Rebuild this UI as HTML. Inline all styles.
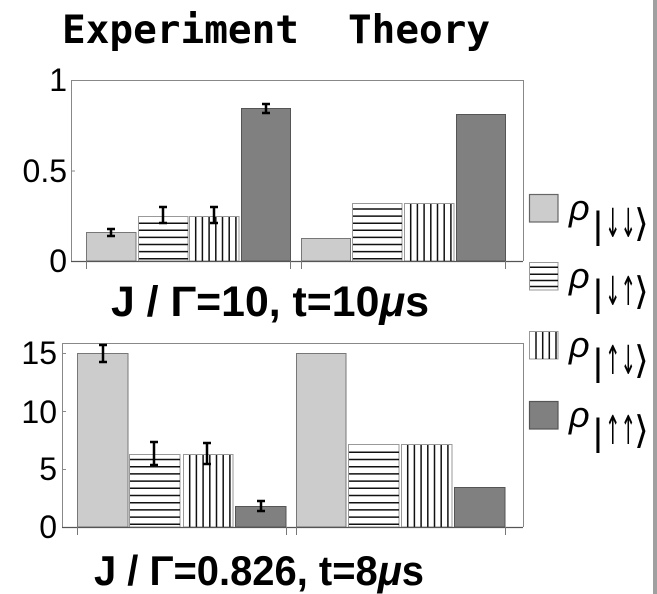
<!DOCTYPE html>
<html>
<head>
<meta charset="utf-8">
<style>
  html,body{margin:0;padding:0;background:#fff;}
  svg{display:block;}
</style>
</head>
<body>
<svg width="657" height="594" viewBox="0 0 657 594" xmlns="http://www.w3.org/2000/svg">
  <rect x="0" y="0" width="657" height="594" fill="#fff"/>
  <rect x="653" y="0" width="4" height="594" fill="#a0a0a0"/>

  <text x="62" y="43" font-family="'DejaVu Sans Mono','Liberation Mono',monospace" font-weight="bold" font-size="39" textLength="237" lengthAdjust="spacingAndGlyphs" fill="#000">Experiment</text>
  <text x="348" y="43" font-family="'DejaVu Sans Mono','Liberation Mono',monospace" font-weight="bold" font-size="39" textLength="142" lengthAdjust="spacingAndGlyphs" fill="#000">Theory</text>

  <!-- ================= TOP CHART ================= -->
  <g font-family="'Liberation Sans',Arial,sans-serif" font-size="32" fill="#000" text-anchor="end">
    <text x="67" y="91">1</text>
    <text x="67" y="182">0.5</text>
    <text x="67" y="272">0</text>
  </g>
  <path d="M71.5 261V80.5H523.5V261" fill="none" stroke="#888" stroke-width="1"/>
  <path d="M71.5 171H75" stroke="#888" stroke-width="1"/>

  <rect x="86.5" y="232.5" width="49.5" height="28.5" fill="#cccccc" stroke="#777" stroke-width="1"/>
  <rect x="138.5" y="216.5" width="49.5" height="44.5" fill="#fff" stroke="#999" stroke-width="1"/>
  <rect x="189.5" y="216.5" width="49.5" height="44.5" fill="#fff" stroke="#999" stroke-width="1"/>
  <rect x="241.5" y="108.5" width="49" height="152.5" fill="#808080" stroke="#555" stroke-width="1"/>
  <rect x="301.5" y="238.5" width="49" height="22.5" fill="#cccccc" stroke="#777" stroke-width="1"/>
  <rect x="352.5" y="203.5" width="49.5" height="57.5" fill="#fff" stroke="#999" stroke-width="1"/>
  <rect x="404.5" y="203.5" width="49.5" height="57.5" fill="#fff" stroke="#999" stroke-width="1"/>
  <rect x="456.5" y="114.5" width="49" height="146.5" fill="#808080" stroke="#555" stroke-width="1"/>

  <path d="M139 258.7H188M139 251.6H188M139 244.5H188M139 237.4H188M139 230.3H188M139 223.2H188" stroke="#111" stroke-width="1.5"/>
  <path d="M353 258.7H402M353 251.6H402M353 244.5H402M353 237.4H402M353 230.3H402M353 223.2H402M353 216.1H402M353 209H402" stroke="#111" stroke-width="1.5"/>
  <path d="M195.7 217V261M202.4 217V261M209.1 217V261M215.8 217V261M222.5 217V261M229.2 217V261M235.9 217V261" stroke="#111" stroke-width="1.5"/>
  <path d="M410.7 204V261M417.4 204V261M424.1 204V261M430.8 204V261M437.5 204V261M444.2 204V261M450.9 204V261" stroke="#111" stroke-width="1.5"/>

  <path d="M71 261.5H523" stroke="#555" stroke-width="1.2"/>
  <path d="M86.5 261V269M290.5 261V269M301.5 261V269M505.5 261V269" stroke="#777" stroke-width="1"/>

  <g stroke="#000" stroke-width="2.5" fill="none">
    <path d="M111 229V236M107 229H115M107 236H115"/>
    <path d="M163 207V223M159 207H167M159 223H167"/>
    <path d="M214 207V223M210 207H218M210 223H218"/>
    <path d="M266 104V113M262 104H270M262 113H270"/>
  </g>

  <text x="111" y="316" font-family="'Liberation Sans',Arial,sans-serif" font-weight="bold" font-size="43" textLength="318" lengthAdjust="spacingAndGlyphs" fill="#000">J / Γ=10, t=10<tspan font-style="italic">μ</tspan>s</text>

  <!-- ================= BOTTOM CHART ================= -->
  <g font-family="'Liberation Sans',Arial,sans-serif" font-size="32" fill="#000" text-anchor="end">
    <text x="57" y="364">15</text>
    <text x="57" y="423">10</text>
    <text x="57" y="480">5</text>
    <text x="57" y="538">0</text>
  </g>
  <path d="M62.5 527V343.5H523.5V527" fill="none" stroke="#888" stroke-width="1"/>
  <path d="M62.5 353.5H66M62.5 411.5H66M62.5 469.5H66" stroke="#888" stroke-width="1"/>

  <rect x="77.5" y="353.5" width="50.5" height="173.5" fill="#cccccc" stroke="#777" stroke-width="1"/>
  <rect x="129.5" y="454.5" width="50.5" height="72.5" fill="#fff" stroke="#999" stroke-width="1"/>
  <rect x="183.5" y="454.5" width="49.5" height="72.5" fill="#fff" stroke="#999" stroke-width="1"/>
  <rect x="235.5" y="506.5" width="50.5" height="20.5" fill="#808080" stroke="#555" stroke-width="1"/>
  <rect x="296.5" y="353.5" width="49.5" height="173.5" fill="#cccccc" stroke="#777" stroke-width="1"/>
  <rect x="348.5" y="444.5" width="50.5" height="82.5" fill="#fff" stroke="#999" stroke-width="1"/>
  <rect x="401.5" y="444.5" width="50.5" height="82.5" fill="#fff" stroke="#999" stroke-width="1"/>
  <rect x="454.5" y="487.5" width="50.5" height="39.5" fill="#808080" stroke="#555" stroke-width="1"/>

  <path d="M130 524.3H180M130 517.1H180M130 509.9H180M130 502.7H180M130 495.5H180M130 488.3H180M130 481.1H180M130 473.9H180M130 466.7H180M130 459.5H180" stroke="#111" stroke-width="1.5"/>
  <path d="M349 524.3H399M349 517.1H399M349 509.9H399M349 502.7H399M349 495.5H399M349 488.3H399M349 481.1H399M349 473.9H399M349 466.7H399M349 459.5H399M349 452.3H399" stroke="#111" stroke-width="1.5"/>
  <path d="M189.7 455V527M196.4 455V527M203.1 455V527M209.8 455V527M216.5 455V527M223.2 455V527M229.9 455V527" stroke="#111" stroke-width="1.5"/>
  <path d="M407.7 445V527M414.4 445V527M421.1 445V527M427.8 445V527M434.5 445V527M441.2 445V527M447.9 445V527" stroke="#111" stroke-width="1.5"/>

  <path d="M62 527.5H523" stroke="#555" stroke-width="1.2"/>
  <path d="M77.5 527V535M286.5 527V535M296.5 527V535M505.5 527V535" stroke="#777" stroke-width="1"/>

  <g stroke="#000" stroke-width="2.5" fill="none">
    <path d="M103 345V362M99 345H107M99 362H107"/>
    <path d="M154 442V465M150 442H158M150 465H158"/>
    <path d="M207 443V464M203 443H211M203 464H211"/>
    <path d="M261 501V511M257 501H265M257 511H265"/>
  </g>

  <text x="94" y="585" font-family="'Liberation Sans',Arial,sans-serif" font-weight="bold" font-size="42" textLength="330" lengthAdjust="spacingAndGlyphs" fill="#000">J / Γ=0.826, t=8<tspan font-style="italic">μ</tspan>s</text>

  <!-- ================= LEGEND ================= -->
  <rect x="529.5" y="194.5" width="28.5" height="27.5" fill="#cccccc" stroke="#666" stroke-width="1.2"/>
  <rect x="529.5" y="262.5" width="28.5" height="27.5" fill="#fff" stroke="#999" stroke-width="1"/>
  <path d="M530 267.3H558M530 274.3H558M530 280.5H558M530 286.5H558" stroke="#111" stroke-width="1.5"/>
  <rect x="529.5" y="331.5" width="28.5" height="27.5" fill="#fff" stroke="#999" stroke-width="1"/>
  <path d="M536 332V359M542.7 332V359M549.3 332V359M556 332V359" stroke="#111" stroke-width="1.5"/>
  <rect x="529.5" y="401.5" width="28.5" height="27.5" fill="#808080" stroke="#555" stroke-width="1.2"/>

  <g fill="#000">
    <text x="569" y="220" font-family="'Liberation Sans',Arial,sans-serif" font-style="italic" font-size="36">ρ</text>
    <text x="593" y="238" font-family="'Liberation Sans',Arial,sans-serif" font-size="38">|</text>
    <text x="605" y="237" font-family="'DejaVu Sans',sans-serif" font-size="40" textLength="31" lengthAdjust="spacingAndGlyphs">↓↓</text>
    <text x="634" y="236" font-family="'DejaVu Sans',sans-serif" font-size="38">⟩</text>

    <text x="569" y="288" font-family="'Liberation Sans',Arial,sans-serif" font-style="italic" font-size="36">ρ</text>
    <text x="593" y="306" font-family="'Liberation Sans',Arial,sans-serif" font-size="38">|</text>
    <text x="605" y="305" font-family="'DejaVu Sans',sans-serif" font-size="40" textLength="31" lengthAdjust="spacingAndGlyphs">↓↑</text>
    <text x="634" y="304" font-family="'DejaVu Sans',sans-serif" font-size="38">⟩</text>

    <text x="569" y="357" font-family="'Liberation Sans',Arial,sans-serif" font-style="italic" font-size="36">ρ</text>
    <text x="593" y="375" font-family="'Liberation Sans',Arial,sans-serif" font-size="38">|</text>
    <text x="605" y="374" font-family="'DejaVu Sans',sans-serif" font-size="40" textLength="31" lengthAdjust="spacingAndGlyphs">↑↓</text>
    <text x="634" y="373" font-family="'DejaVu Sans',sans-serif" font-size="38">⟩</text>

    <text x="569" y="427" font-family="'Liberation Sans',Arial,sans-serif" font-style="italic" font-size="36">ρ</text>
    <text x="593" y="445" font-family="'Liberation Sans',Arial,sans-serif" font-size="38">|</text>
    <text x="605" y="444" font-family="'DejaVu Sans',sans-serif" font-size="40" textLength="31" lengthAdjust="spacingAndGlyphs">↑↑</text>
    <text x="634" y="443" font-family="'DejaVu Sans',sans-serif" font-size="38">⟩</text>
  </g>
</svg>
</body>
</html>
